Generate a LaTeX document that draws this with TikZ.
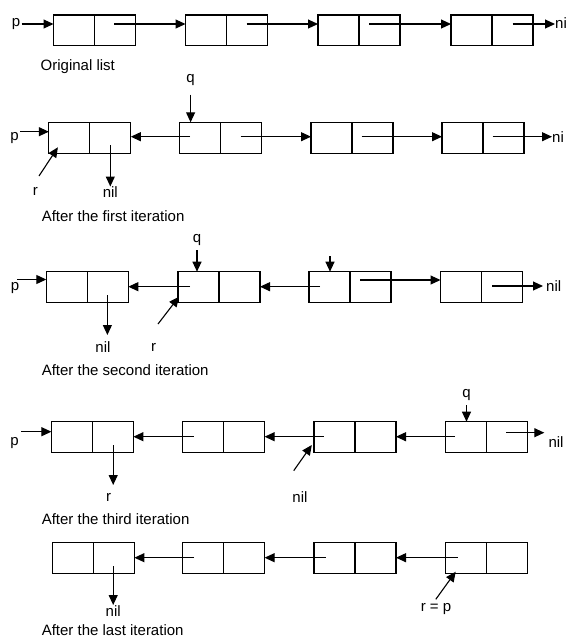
\documentclass[tikz,border=0pt]{standalone}
\usepackage{fontspec}
\setmainfont{Liberation Sans}
\usetikzlibrary{arrows.meta,calc}
\begin{document}
\begin{tikzpicture}[x=1pt,y=-1pt,
  cell/.style={draw, line width=1.1pt, minimum width=41pt, minimum height=30.8pt, inner sep=0pt, outer sep=0pt, anchor=north west},
  ptr/.style={line width=1.1pt, -{Triangle[length=10pt,width=9pt]}},
  lbl/.style={inner sep=0pt, font=\fontsize{15}{18}\selectfont}]
\useasboundingbox (0,0) rectangle (567,643);

% ---------------- Row 1: original list ----------------
\foreach \n/\x in {a1/53.5,a2/185.5,a3/318,a4/451}{
  \node[cell] (\n l) at (\x,15) {};
  \node[cell] (\n r) at (\n l.north east) {};
}
\node[lbl] (p1) at (16,24) {p};
\coordinate (p1s) at (21.5,24);
\draw[ptr] (p1s) -- (p1s -| a1l.west);
\coordinate (s12) at (114,24);
\draw[ptr] (s12) -- (s12 -| a2l.west);
\coordinate (s23) at (246.5,24);
\draw[ptr] (s23) -- (s23 -| a3l.west);
\coordinate (s34) at (369,24);
\draw[ptr] (s34) -- (s34 -| a4l.west);
\node[lbl,anchor=west] (n1) at (555,23.5) {ni};
\coordinate (s4n) at (512.5,24);
\draw[ptr] (s4n) -- (s4n -| n1.west);
\node[lbl,anchor=west] (t1) at (40.5,67) {Original list};

% ---------------- Row 2: after the first iteration ----------------
\foreach \n/\x in {b1/48.8,b2/179.7,b3/311,b4/442}{
  \node[cell] (\n l) at (\x,122.3) {};
  \node[cell] (\n r) at (\n l.north east) {};
}
\node[lbl] (p2) at (14.5,138.3) {p};
\coordinate (p2s) at (20,131.7);
\draw[ptr] (p2s) -- (p2s -| b1l.west);
\coordinate (s21) at (190,136.7);
\draw[ptr] (s21) -- (s21 -| b1r.east);
\coordinate (s23b) at (240.5,136.7);
\draw[ptr] (s23b) -- (s23b -| b3l.west);
\coordinate (s34b) at (361.5,136.7);
\draw[ptr] (s34b) -- (s34b -| b4l.west);
\node[lbl,anchor=west] (n2) at (552,137) {ni};
\coordinate (s4nb) at (492.6,136.7);
\draw[ptr] (s4nb) -- (s4nb -| n2.west);
\node[lbl] (q2) at (190.6,80) {q};
\draw[ptr] ([yshift=-14.5pt]q2.center) -- (q2.center |- b2l.north);
\node[lbl] (r2) at (35.4,191.7) {r};
\coordinate (r2s) at (39,176);
\coordinate (r2e) at (57.9,147.3);
\draw[ptr] (r2s) -- (r2e);
\node[lbl,anchor=north] (nil2) at (110.3,186.5) {nil};
\coordinate (nil2s) at (110.3,145);
\draw[ptr] (nil2s) -- (nil2.north);
\node[lbl,anchor=west] (t2) at (41.6,216) {After the first iteration};

% ---------------- Row 3: after the second iteration ----------------
\foreach \n/\x in {c1/46.3,c2/178,c3/309,c4/440.5}{
  \node[cell] (\n l) at (\x,271.7) {};
  \node[cell] (\n r) at (\n l.north east) {};
}
\node[lbl] (p3) at (15,288) {p};
\coordinate (p3s) at (17,279.5);
\draw[ptr] (p3s) -- (p3s -| c1l.west);
\coordinate (s21c) at (190,286.7);
\draw[ptr] (s21c) -- (s21c -| c1r.east);
\coordinate (s32c) at (320,286.7);
\draw[ptr] (s32c) -- (s32c -| c2r.east);
\coordinate (s34c) at (360,280);
\draw[ptr] (s34c) -- (s34c -| c4l.west);
\node[lbl,anchor=west] (nil3r) at (546,286) {nil};
\coordinate (s4nc) at (492,286);
\draw[ptr] (s4nc) -- ([xshift=-3pt]s4nc -| nil3r.west);
\node[lbl] (q3) at (197,240) {q};
\draw[ptr] ([yshift=-10pt]q3.center) -- (q3.center |- c2l.north);
\coordinate (u3) at (330,256);
\draw[ptr] (u3) -- (u3 |- c3l.north);
\node[lbl] (nil3) at (103,347) {nil};
\coordinate (nil3s) at (107.4,295);
\coordinate (nil3e) at (107.4,335);
\draw[ptr] (nil3s) -- (nil3e);
\node[lbl] (r3) at (153.7,347.7) {r};
\coordinate (r3s) at (158,324);
\coordinate (r3e) at (179,296.7);
\draw[ptr] (r3s) -- (r3e);
\node[lbl,anchor=west] (t3) at (41.6,370) {After the second iteration};

% ---------------- Row 4: after the third iteration ----------------
\foreach \n/\x in {d1/51.4,d2/182.6,d3/314,d4/445.6}{
  \node[cell] (\n l) at (\x,421.7) {};
  \node[cell] (\n r) at (\n l.north east) {};
}
\node[lbl] (p4) at (14.5,442.7) {p};
\coordinate (p4s) at (21,431.7);
\draw[ptr] (p4s) -- (p4s -| d1l.west);
\coordinate (s21d) at (193.5,436.7);
\draw[ptr] (s21d) -- (s21d -| d1r.east);
\coordinate (s32d) at (323.7,436.7);
\draw[ptr] (s32d) -- (s32d -| d2r.east);
\coordinate (s43d) at (455,436.7);
\draw[ptr] (s43d) -- (s43d -| d3r.east);
\node[lbl] (nil4r) at (556,442.3) {nil};
\coordinate (s4nd) at (506,432.7);
\coordinate (e4nd) at (544.3,432.7);
\draw[ptr] (s4nd) -- (e4nd);
\node[lbl] (q4) at (466.5,395) {q};
\draw[ptr] ([yshift=-10pt]q4.center) -- (q4.center |- d4l.north);
\node[lbl] (r4) at (108.5,497) {r};
\coordinate (r4s) at (113.2,445);
\coordinate (r4e) at (113.2,485);
\draw[ptr] (r4s) -- (r4e);
\node[lbl] (nil4) at (300,496.7) {nil};
\coordinate (nil4s) at (293.7,470.7);
\coordinate (nil4e) at (311.8,445);
\draw[ptr] (nil4s) -- (nil4e);
\node[lbl,anchor=west] (t4) at (41.6,519) {After the third iteration};

% ---------------- Row 5: after the last iteration ----------------
\foreach \n/\x in {e1/52.4,e2/182.6,e3/314,e4/445.6}{
  \node[cell] (\n l) at (\x,542.3) {};
  \node[cell] (\n r) at (\n l.north east) {};
}
\coordinate (s21e) at (194,557.7);
\draw[ptr] (s21e) -- (s21e -| e1r.east);
\coordinate (s32e) at (325.5,557.7);
\draw[ptr] (s32e) -- (s32e -| e2r.east);
\coordinate (s43e) at (457.5,557.7);
\draw[ptr] (s43e) -- (s43e -| e3r.east);
\node[lbl,anchor=north] (nil5) at (113.2,605) {nil};
\coordinate (nil5s) at (113.2,566);
\draw[ptr] (nil5s) -- (nil5.north);
\node[lbl] (rp) at (436,609.5) {r = p};
\coordinate (rps) at (435.8,599.3);
\coordinate (rpe) at (455.7,571.7);
\draw[ptr] (rps) -- (rpe);
\node[lbl,anchor=west] (t5) at (41.6,630) {After the last iteration};
\end{tikzpicture}
\end{document}
